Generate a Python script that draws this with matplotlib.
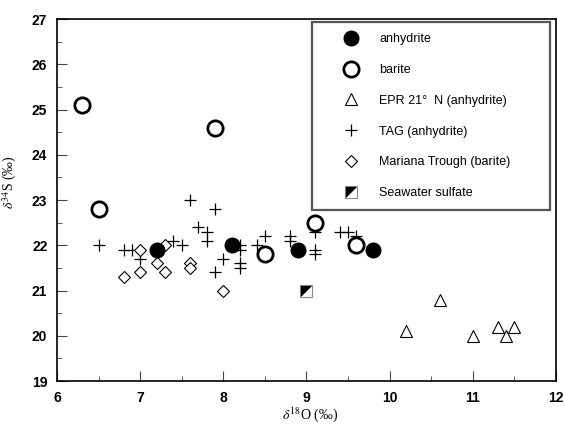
import matplotlib
matplotlib.use("Agg")
import matplotlib.pyplot as plt
from matplotlib.lines import Line2D
from matplotlib.legend_handler import HandlerTuple
from matplotlib.ticker import MultipleLocator

plt.rcParams['mathtext.fontset'] = 'stix'

# datos
anh_x = [7.2, 8.1, 8.9, 9.8]
anh_y = [21.9, 22.0, 21.9, 21.9]

bar_x = [6.3, 6.5, 7.9, 8.5, 9.1, 9.6]
bar_y = [25.1, 22.8, 24.6, 21.8, 22.5, 22.0]

epr_x = [10.2, 10.6, 11.0, 11.3, 11.4, 11.5]
epr_y = [20.1, 20.8, 20.0, 20.2, 20.0, 20.2]

tag_x = [6.5, 6.8, 6.9, 7.0, 7.4, 7.5, 7.6, 7.7, 7.8, 7.8, 7.9, 7.9, 8.0,
         8.2, 8.2, 8.2, 8.2, 8.4, 8.5, 8.8, 8.8, 9.1, 9.1, 9.1, 9.4, 9.5, 9.6]
tag_y = [22.0, 21.9, 21.9, 21.7, 22.1, 22.0, 23.0, 22.4, 22.3, 22.1, 22.8, 21.4, 21.7,
         22.0, 21.9, 21.6, 21.5, 22.0, 22.2, 22.2, 22.1, 22.3, 21.9, 21.8, 22.3, 22.3, 22.2]

mar_x = [6.8, 7.0, 7.0, 7.2, 7.3, 7.3, 7.6, 7.6, 8.0]
mar_y = [21.3, 21.4, 21.9, 21.6, 22.0, 21.4, 21.6, 21.5, 21.0]

sw_x = [9.0]
sw_y = [21.0]

fig = plt.figure(figsize=(5.65, 4.25), dpi=100)
ax = fig.add_axes([0.1009, 0.1035, 0.8831, 0.8515])

# triangulo negro para el sulfato de agua de mar
tri = [(-1, 1), (1, 1), (-1, -1), (-1, 1)]

ax.plot(tag_x, tag_y, '+', color='black', ms=9, mew=0.9, ls='none')
ax.plot(mar_x, mar_y, 'D', mfc='white', mec='black', ms=6, mew=0.8, ls='none')
ax.plot(epr_x, epr_y, '^', mfc='white', mec='black', ms=8, mew=0.8, ls='none')
ax.plot(bar_x, bar_y, 'o', mfc='white', mec='black', ms=11, mew=2.0, ls='none')
ax.plot(anh_x, anh_y, 'o', color='black', ms=10.5, ls='none')
ax.plot(sw_x, sw_y, 's', mfc='white', mec='#888888', ms=8.5, mew=0.8, ls='none')
ax.plot(sw_x, sw_y, marker=tri, color='black', ms=8, mew=0, ls='none')

ax.set_xlim(6, 12)
ax.set_ylim(19, 27)
ax.xaxis.set_major_locator(MultipleLocator(1))
ax.xaxis.set_minor_locator(MultipleLocator(0.5))
ax.yaxis.set_major_locator(MultipleLocator(1))
ax.yaxis.set_minor_locator(MultipleLocator(0.5))
ax.tick_params(which='both', direction='in', top=False, right=False,
               labelsize=10, color='#444444')
ax.tick_params(which='major', length=7, width=0.8, pad=7)
ax.tick_params(which='minor', length=3.5, width=0.6)
for lab in ax.get_xticklabels() + ax.get_yticklabels():
    lab.set_fontweight('bold')
    lab.set_family('Liberation Sans')
for sp in ax.spines.values():
    sp.set_linewidth(1.2)

ax.set_xlabel(r'$\delta^{18}$O (‰)', fontsize=10, family='Liberation Serif')
ax.set_ylabel(r'$\delta^{34}$S (‰)', fontsize=10, family='Liberation Serif')
ax.xaxis.set_label_coords(0.507, -0.066)
ax.yaxis.set_label_coords(-0.076, 0.55)

# leyenda
h_anh = Line2D([], [], marker='o', color='black', ms=10.5, ls='none')
h_bar = Line2D([], [], marker='o', mfc='white', mec='black', ms=11, mew=2.0, ls='none')
h_epr = Line2D([], [], marker='^', mfc='white', mec='black', ms=8, mew=0.8, ls='none')
h_tag = Line2D([], [], marker='+', color='black', ms=9, mew=0.9, ls='none')
h_mar = Line2D([], [], marker='D', mfc='white', mec='black', ms=6, mew=0.8, ls='none')
h_sw1 = Line2D([], [], marker='s', mfc='white', mec='#888888', ms=8.5, mew=0.8, ls='none')
h_sw2 = Line2D([], [], marker=tri, color='black', ms=8, mew=0, ls='none')

leg = ax.legend([h_anh, h_bar, h_epr, h_tag, h_mar, (h_sw1, h_sw2)],
                ['anhydrite', 'barite', 'EPR 21°  N (anhydrite)', 'TAG (anhydrite)',
                 'Mariana Trough (barite)', 'Seawater sulfate'],
                handler_map={tuple: HandlerTuple(ndivide=1)},
                loc='upper left', bbox_to_anchor=(0.511, 0.992, 0.477, 0.0),
                mode='expand', borderaxespad=0, numpoints=1,
                fancybox=False, framealpha=1, edgecolor='#555555',
                handlelength=4.4, handletextpad=0.1, borderpad=0.9,
                labelspacing=1.5, prop={'family': 'Liberation Sans', 'size': 9})
leg.get_frame().set_linewidth(1.6)

fig.savefig('out.png', dpi=100)
